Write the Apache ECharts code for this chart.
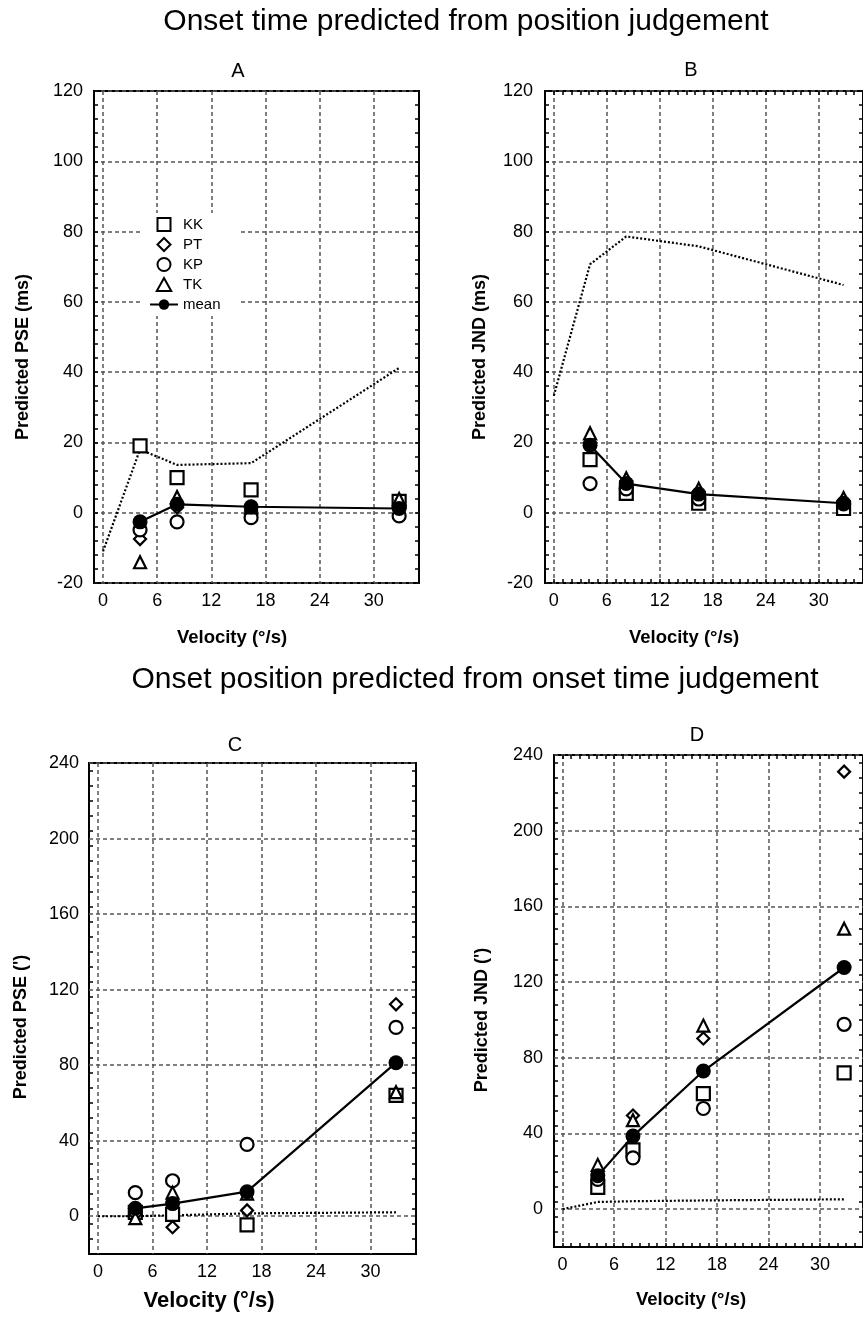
<!DOCTYPE html>
<html><head><meta charset="utf-8">
<script src="https://cdn.jsdelivr.net/npm/echarts@6/dist/echarts.min.js"></script>
<style>html,body{margin:0;padding:0;background:#fff}#c{width:863px;height:1318px}</style>
</head><body><div id="c"></div>
<script>
// ---- data ----
const velocity = [4.1, 8.2, 16.4, 32.8];
const modelVelocity = [0, 4.1, 8.2, 16.4, 32.8];
const xTicks = [0, 6, 12, 18, 24, 30];
const yTicksMs = [-20, 0, 20, 40, 60, 80, 100, 120];
const yTicksArcmin = [0, 40, 80, 120, 160, 200, 240];
const observers = ['KK', 'PT', 'KP', 'TK'];

// A: predicted PSE (ms)
const A_KK = [19.0, 10.0, 6.5, 3.2];
const A_PT = [-7.5, 1.5, 0.5, 2.0];
const A_KP = [-4.9, -2.6, -1.4, -0.9];
const A_TK = [-14.1, 4.5, 1.5, 3.9];
const A_mean = [-2.6, 2.4, 1.7, 1.2];
const A_model = [-11.0, 18.0, 13.6, 14.1, 41.2];

// B: predicted JND (ms)
const B_KK = [15.1, 5.5, 2.7, 1.2];
const B_PT = [20.0, 9.0, 6.0, 3.5];
const B_KP = [8.3, 6.8, 3.9, 2.5];
const B_TK = [22.6, 9.8, 6.8, 4.2];
const B_mean = [19.2, 8.3, 5.3, 2.7];
const B_model = [33.3, 70.7, 78.6, 75.8, 64.8];

// C: predicted PSE (')
const C_KK = [2.0, 1.0, -4.6, 64.0];
const C_PT = [1.0, -5.8, 3.1, 112.2];
const C_KP = [12.5, 18.8, 38.0, 100.0];
const C_TK = [-1.0, 12.5, 12.0, 65.7];
const C_mean = [4.2, 6.7, 13.0, 81.3];
const C_model = [0.0, 0.0, 0.5, 1.5, 2.1];

// D: predicted JND (')
const D_KK = [11.5, 31.3, 61.0, 72.0];
const D_PT = [18.0, 49.5, 90.2, 231.2];
const D_KP = [15.7, 27.1, 53.2, 97.7];
const D_TK = [23.4, 47.0, 97.0, 148.2];
const D_mean = [17.7, 38.6, 73.0, 127.7];
const D_model = [0.0, 3.8, 4.2, 4.6, 5.2];

// ---- build ----
const FONT = '"Liberation Sans", Arial, Helvetica, sans-serif';
const grids = [], xAxes = [], yAxes = [], series = [];
function steps(a, b, s) { const r = []; for (let v = a; v <= b + 1e-9; v += s) r.push(+v.toFixed(6)); return r; }
const pairs = (xs, ys) => xs.map((x, i) => [x, ys[i]]);
const symbols = { KK: ['rect', 13], PT: ['diamond', 12], KP: ['circle', 13], TK: ['triangle', 12] };
const gridLine = { show: true, lineStyle: { color: '#555', width: 1.5, type: [4, 3] } };
const noLine = { show: false, onZero: false };
const minorTick = (vals) => ({ show: true, inside: true, length: 4, customValues: vals, lineStyle: { color: '#000', width: 1.5 } });

function addPanel(cfg) {
  const gi = grids.length;
  grids.push(Object.assign({ show: true, borderColor: '#000', borderWidth: 2, backgroundColor: 'transparent' }, cfg.rect));
  const xi = xAxes.length;
  xAxes.push({ type: 'value', gridIndex: gi, min: -1, max: 35, position: 'bottom',
    axisLine: noLine, axisTick: { show: false, customValues: xTicks },
    axisLabel: { customValues: xTicks, fontSize: 18, color: '#000', fontFamily: FONT, margin: 9 },
    splitLine: gridLine });
  if (cfg.xMinor) {
    ['bottom', 'top'].forEach(pos => xAxes.push({ type: 'value', gridIndex: gi, min: -1, max: 35, position: pos,
      axisLine: noLine, axisLabel: { show: false }, splitLine: { show: false },
      axisTick: minorTick(steps(-1, 35, 1)) }));
  }
  const yi = yAxes.length;
  yAxes.push({ type: 'value', gridIndex: gi, min: cfg.yMin, max: cfg.yMax, position: 'left',
    axisLine: noLine, axisTick: { show: false, customValues: cfg.yLabels },
    axisLabel: { customValues: cfg.yLabels, fontSize: 18, color: '#000', fontFamily: FONT, margin: cfg.yMargin },
    splitLine: gridLine });
  ['left', 'right'].forEach(pos => yAxes.push({ type: 'value', gridIndex: gi, min: cfg.yMin, max: cfg.yMax, position: pos,
    axisLine: noLine, axisLabel: { show: false }, splitLine: { show: false },
    axisTick: minorTick(steps(cfg.yMin, cfg.yMax, cfg.yMinorStep)) }));

  series.push({ type: 'line', name: 'model', xAxisIndex: xi, yAxisIndex: yi, data: pairs(modelVelocity, cfg.model),
    symbol: 'none', lineStyle: { color: '#000', width: 2.2, type: [2, 2] }, silent: true, z: 2 });
  observers.forEach(o => {
    series.push({ type: 'scatter', name: o, xAxisIndex: xi, yAxisIndex: yi, data: pairs(velocity, cfg.obs[o]),
      symbol: symbols[o][0], symbolSize: symbols[o][1],
      itemStyle: { color: '#fff', borderColor: '#000', borderWidth: 2.2, opacity: 1 }, z: 3 });
  });
  series.push({ type: 'line', name: 'mean', xAxisIndex: xi, yAxisIndex: yi, data: pairs(velocity, cfg.mean),
    symbol: 'circle', symbolSize: 15, showSymbol: true,
    itemStyle: { color: '#000' }, lineStyle: { color: '#000', width: 2.2 }, z: 4 });
}

addPanel({ rect: { left: 94, top: 91, width: 325, height: 492 }, yMin: -20, yMax: 120, yLabels: yTicksMs, yMinorStep: 4, yMargin: 11,
  obs: { KK: A_KK, PT: A_PT, KP: A_KP, TK: A_TK }, mean: A_mean, model: A_model, xMinor: false });
addPanel({ rect: { left: 545, top: 91, width: 325, height: 492 }, yMin: -20, yMax: 120, yLabels: yTicksMs, yMinorStep: 4, yMargin: 12,
  obs: { KK: B_KK, PT: B_PT, KP: B_KP, TK: B_TK }, mean: B_mean, model: B_model, xMinor: true });
addPanel({ rect: { left: 89, top: 763, width: 327, height: 491 }, yMin: -20, yMax: 240, yLabels: yTicksArcmin, yMinorStep: 8, yMargin: 10,
  obs: { KK: C_KK, PT: C_PT, KP: C_KP, TK: C_TK }, mean: C_mean, model: C_model, xMinor: false });
addPanel({ rect: { left: 554, top: 755, width: 325, height: 492 }, yMin: -20, yMax: 240, yLabels: yTicksArcmin, yMinorStep: 8, yMargin: 11,
  obs: { KK: D_KK, PT: D_PT, KP: D_KP, TK: D_TK }, mean: D_mean, model: D_model, xMinor: true });

function txt(text, x, y, size, bold, rot) {
  return { type: 'text', x: x, y: y, rotation: rot || 0, z: 10,
    style: { text: text, fill: '#000', fontSize: size, fontWeight: bold ? 'bold' : 'normal', fontFamily: FONT,
      align: 'center', verticalAlign: 'middle', textAlign: 'center', textVerticalAlign: 'middle' } };
}
const R = Math.PI / 2;
const graphics = [
  txt('Onset time predicted from position judgement', 466, 22, 30, false),
  txt('Onset position predicted from onset time judgement', 475, 680, 30, false),
  txt('A', 238, 71, 20, false), txt('B', 691, 70, 20, false),
  txt('C', 235, 745, 20, false), txt('D', 697, 735, 20, false),
  txt('Predicted PSE (ms)', 23, 357, 18, true, R),
  txt('Predicted JND (ms)', 480, 357, 18, true, R),
  txt("Predicted PSE (')", 21, 1027, 18, true, R),
  txt("Predicted JND (')", 482, 1020, 18, true, R),
  txt('Velocity (°/s)', 232, 638, 18.5, true),
  txt('Velocity (°/s)', 684, 638, 18.5, true),
  txt('Velocity (°/s)', 209, 1301, 22, true),
  txt('Velocity (°/s)', 691, 1300, 18.5, true)
];

const chart = echarts.init(document.getElementById('c'), null, { renderer: 'canvas' });
chart.setOption({
  animation: false,
  backgroundColor: '#fff',
  grid: grids, xAxis: xAxes, yAxis: yAxes, series: series,
  legend: { orient: 'vertical', left: 143, top: 213, symbolKeepAspect: true,
    data: [
      { name: 'KK', icon: 'path://M0,0L10,0L10,10L0,10Z' },
      { name: 'PT', icon: 'path://M5,0L10,5L5,10L0,5Z' },
      { name: 'KP', icon: 'circle' },
      { name: 'TK', icon: 'path://M5,0L10,9L0,9Z' },
      'mean'
    ],
    itemWidth: 28, itemHeight: 13, itemGap: 5, backgroundColor: '#fff', padding: [4, 18, 4, 6],
    textStyle: { fontSize: 15, color: '#000', fontFamily: FONT }, selectedMode: false },
  graphic: graphics
});
</script></body></html>
